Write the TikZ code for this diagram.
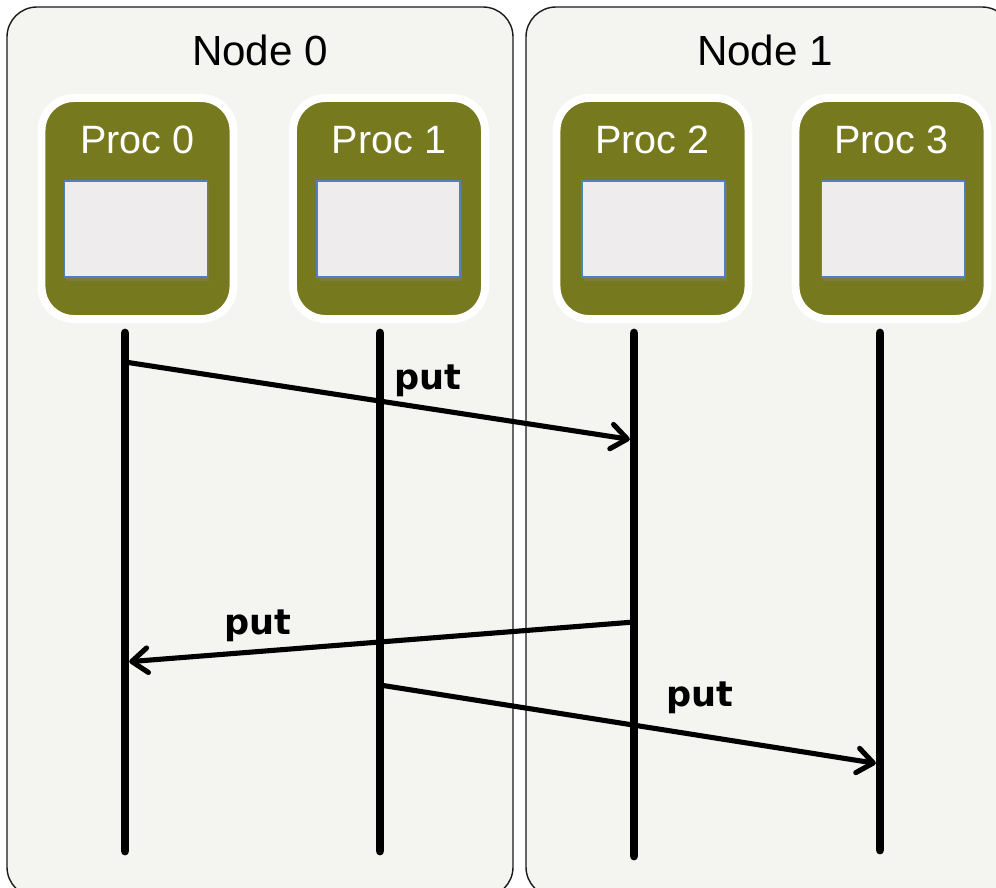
\documentclass[tikz,border=0pt]{standalone}
\usepackage{fontspec}
\setmainfont{Liberation Sans}
\newfontfamily\putfont{DejaVu Sans}
\usepackage{tikz}
\usetikzlibrary{positioning,arrows.meta,shadows}
\definecolor{ink}      {HTML}{1A1A1A}
\definecolor{panelbg}  {HTML}{F4F4F0}
\definecolor{procgreen}{HTML}{76791E}
\definecolor{membg}    {HTML}{EEECED}
\definecolor{memline}  {HTML}{4F81BD}
\tikzset{
  panel/.style   = {rounded corners=0.6cm, fill=panelbg, draw=ink, line width=0.8pt},
  panelttl/.style= {font=\fontsize{24}{28}\selectfont, text=black},
  proc/.style    = {rounded corners=0.65cm, fill=procgreen, draw=white, line width=4.5pt,
                    minimum width=3.84cm, minimum height=4.42cm, inner sep=0pt,
                    drop shadow={opacity=0.22, shadow xshift=0.4pt, shadow yshift=-2pt}},
  procttl/.style = {font=\fontsize{22.5}{26}\selectfont, text=white},
  mem/.style     = {fill=membg, draw=memline, line width=0.7pt, inner sep=0pt,
                    minimum width=2.86cm, minimum height=1.92cm,
                    drop shadow={opacity=0.4, shadow xshift=1pt, shadow yshift=-2pt}},
  life/.style    = {line width=5pt, line cap=round},
  msg/.style     = {-{Straight Barb[length=9pt, width=14pt, round]}, line width=2.9pt,
                    line cap=round, shorten >=2.4pt},
  lbl/.style     = {font=\putfont\bfseries\fontsize{20}{24}\selectfont},
}

\begin{document}
\begin{tikzpicture}[x=0.02cm, y=-0.02cm]
  \useasboundingbox (0,0) rectangle (996,887);
  \clip (0,0) rectangle (996,887);
  \fill[white] (0,0) rectangle (996,887);

  % machines
  \draw[panel] (7,7) rectangle (513,897);
  \draw[panel] (526,7) rectangle (1012,897);
  \node[panelttl] (node0) at (260,50) {Node 0};
  \node[panelttl] (node1) at (765,50) {Node 1};

  % processes
  \node[proc] (proc0) at (137.5,208.5) {};
  \node[proc] (proc1) at (389,208.5) {};
  \node[proc] (proc2) at (652.5,208.5) {};
  \node[proc] (proc3) at (891.5,208.5) {};
  \node[procttl] (ttl0) at (137.5,140) {Proc 0};
  \node[procttl] (ttl1) at (389,140) {Proc 1};
  \node[procttl] (ttl2) at (652.5,140) {Proc 2};
  \node[procttl] (ttl3) at (891.5,140) {Proc 3};
  \node[mem] (mem0) at (136,229) {};
  \node[mem] (mem1) at (388.5,229) {};
  \node[mem] (mem2) at (653.5,229) {};
  \node[mem] (mem3) at (893,229) {};

  % lifelines
  \coordinate (top0) at (125,333);  \coordinate (bot0) at (125,851);
  \coordinate (top1) at (380,333);  \coordinate (bot1) at (380,851);
  \coordinate (top2) at (634,333);  \coordinate (bot2) at (634,856);
  \coordinate (top3) at (880,333);  \coordinate (bot3) at (880,850);
  \draw[life] (top0) -- (bot0);
  \draw[life] (top1) -- (bot1);
  \draw[life] (top2) -- (bot2);
  \draw[life] (top3) -- (bot3);

  % one-sided puts
  \coordinate (src1) at (125,362);  \coordinate (dst1) at (634,440);
  \coordinate (src2) at (634,622);  \coordinate (dst2) at (125,662);
  \coordinate (src3) at (380,685);  \coordinate (dst3) at (880,764);
  \draw[msg] (src1) -- (dst1);
  \draw[msg] (src2) -- (dst2);
  \draw[msg] (src3) -- (dst3);
  \node[lbl] (put1) at (428,381) {put};
  \node[lbl] (put2) at (258,626) {put};
  \node[lbl] (put3) at (700,698) {put};
\end{tikzpicture}
\end{document}
